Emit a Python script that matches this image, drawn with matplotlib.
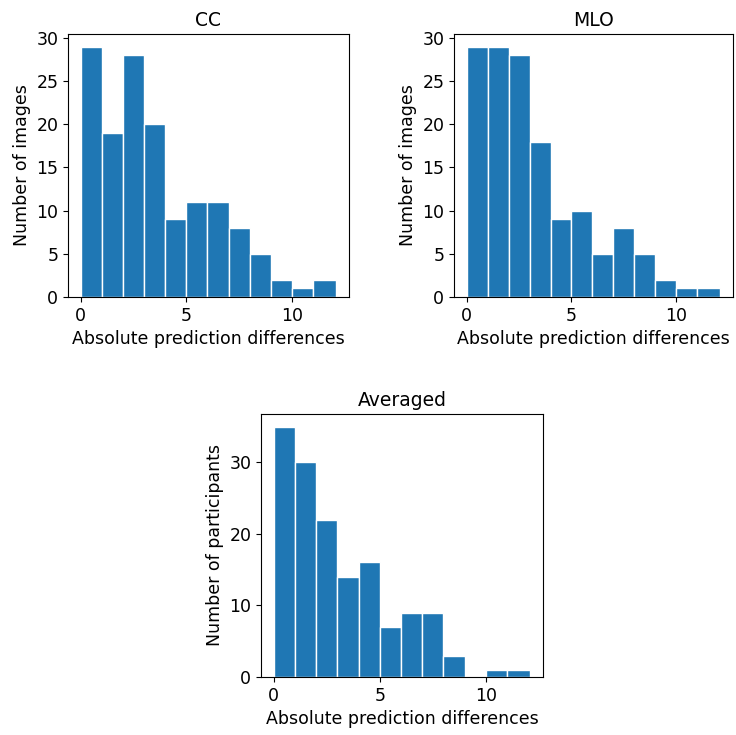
import matplotlib
matplotlib.use("Agg")
import matplotlib.pyplot as plt
from matplotlib.ticker import MultipleLocator
import numpy as np

# bin edges of the histograms (absolute prediction differences)
edges = [0.0, 1.0, 2.0, 3.0, 4.0, 5.0, 6.0, 7.0, 8.0, 9.0, 10.0, 11.0, 12.1]

# counts per bin
cc_counts = [29, 19, 28, 20, 9, 11, 11, 8, 5, 2, 1, 2]
mlo_counts = [29, 29, 28, 18, 9, 10, 5, 8, 5, 2, 1, 1]
avg_counts = [35, 30, 22, 14, 16, 7, 9, 9, 3, 0, 1, 1]

W, H = 736, 735
fig = plt.figure(figsize=(W / 100, H / 100), dpi=100)


def px_axes(left, right, top, bottom):
    return fig.add_axes([left / W, 1 - bottom / H, (right - left) / W, (bottom - top) / H])


def draw_hist(ax, counts, title, ylabel, ystep):
    left = np.array(edges[:-1])
    ax.hist(left, bins=edges, weights=counts, color="#1f77b4", edgecolor="white", linewidth=1)
    ax.set_title(title, fontsize=13.5)
    ax.set_xlabel("Absolute prediction differences", fontsize=12.5)
    ax.set_ylabel(ylabel, fontsize=12.5)
    ax.tick_params(labelsize=12.5)
    ax.xaxis.set_major_locator(MultipleLocator(5))
    ax.yaxis.set_major_locator(MultipleLocator(ystep))


ax1 = px_axes(68, 349, 34, 297)
draw_hist(ax1, cc_counts, "CC", "Number of images", 5)

ax2 = px_axes(454, 733, 34, 297)
draw_hist(ax2, mlo_counts, "MLO", "Number of images", 5)

ax3 = px_axes(261, 543, 414, 677)
draw_hist(ax3, avg_counts, "Averaged", "Number of participants", 10)

fig.savefig("out.png", dpi=100)
